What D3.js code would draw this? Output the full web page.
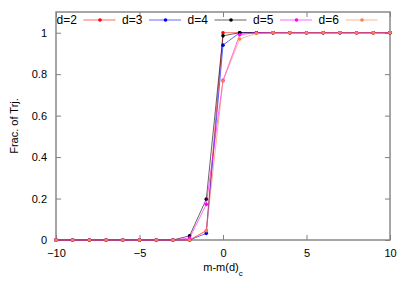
<!DOCTYPE html>
<html>
<head>
<meta charset="utf-8">
<script src="https://cdn.jsdelivr.net/npm/d3@7"></script>
<style>
  body { margin: 0; background: #fff; }
  text { font-family: "Liberation Sans", Arial, sans-serif; font-size: 11px; fill: #000; }
</style>
</head>
<body>
<div id="chart"></div>
<script>
const width = 411;
const height = 288;

const xs = d3.range(-10, 11);
const names = ['d=2', 'd=3', 'd=4', 'd=5', 'd=6'];
const colors = ['#ff0000', '#0000ff', '#000000', '#ff00ff', '#ff7f50'];

// values at m-m(d)c = -10 .. 10
const d2 = [0, 0, 0, 0, 0, 0, 0, 0, 0, 0.045, 1.0, 1, 1, 1, 1, 1, 1, 1, 1, 1, 1];
const d3v = [0, 0, 0, 0, 0, 0, 0, 0, 0, 0.032, 0.94, 1, 1, 1, 1, 1, 1, 1, 1, 1, 1];
const d4 = [0, 0, 0, 0, 0, 0, 0, 0, 0.02, 0.197, 0.985, 1, 1, 1, 1, 1, 1, 1, 1, 1, 1];
const d5 = [0, 0, 0, 0, 0, 0, 0, 0, 0.01, 0.172, 0.77, 0.99, 1, 1, 1, 1, 1, 1, 1, 1, 1];
const d6 = [0, 0, 0, 0, 0, 0, 0, 0, 0, 0.045, 0.767, 0.97, 0.997, 1, 1, 1, 1, 1, 1, 1, 1];
const series = [d2, d3v, d4, d5, d6];

const xTicks = [-10, -5, 0, 5, 10];
const yTicks = [0, 0.2, 0.4, 0.6, 0.8, 1];

const margin = { left: 56, right: 21, top: 12, bottom: 48 };

const svg = d3.select('#chart').append('svg')
    .attr('width', width)
    .attr('height', height);

const x = d3.scaleLinear().domain([-10, 10]).range([margin.left, width - margin.right]);
const y = d3.scaleLinear().domain([0, 1.1]).range([height - margin.bottom, margin.top]);

const frame = '#808080';

// axes with inward ticks, mirrored
const axBottom = svg.append('g')
    .attr('transform', `translate(0,${y(0)})`)
    .call(d3.axisBottom(x).tickValues(xTicks).tickSize(-5).tickPadding(9).tickFormat(d3.format('d')));
const axTop = svg.append('g')
    .attr('transform', `translate(0,${y(1.1)})`)
    .call(d3.axisTop(x).tickValues(xTicks).tickSize(-5).tickFormat(''));
const axLeft = svg.append('g')
    .attr('transform', `translate(${x(-10)},0)`)
    .call(d3.axisLeft(y).tickValues(yTicks).tickSize(-5).tickPadding(9).tickFormat(d => d === 0 || d === 1 ? d : d.toFixed(1)));
const axRight = svg.append('g')
    .attr('transform', `translate(${x(10)},0)`)
    .call(d3.axisRight(y).tickValues(yTicks).tickSize(-5).tickFormat(''));

[axBottom, axTop, axLeft, axRight].forEach(g => {
    g.select('.domain').remove();
    g.selectAll('line').attr('stroke', frame);
    g.selectAll('text').style('font-size', '11px').attr('fill', '#000');
});

svg.append('rect')
    .attr('x', x(-10))
    .attr('y', y(1.1))
    .attr('width', x(10) - x(-10))
    .attr('height', y(0) - y(1.1))
    .attr('fill', 'none')
    .attr('stroke', frame)
    .attr('stroke-width', 1.4);

const line = d3.line()
    .x((d, i) => x(xs[i]))
    .y(d => y(d));

series.forEach((s, k) => {
    svg.append('path')
        .datum(s)
        .attr('d', line)
        .attr('fill', 'none')
        .attr('stroke', colors[k])
        .attr('stroke-opacity', 0.6)
        .attr('stroke-width', 1);
    svg.append('g').selectAll('circle')
        .data(s)
        .enter().append('circle')
        .attr('cx', (d, i) => x(xs[i]))
        .attr('cy', d => y(d))
        .attr('r', 1.8)
        .attr('fill', colors[k]);
});

// legend
const legend = svg.append('g');
names.forEach((n, k) => {
    const lx = 56.5 + k * 65.5;
    const ly = 20;
    legend.append('text')
        .attr('x', lx)
        .attr('y', ly + 4)
        .style('font-size', '12px')
        .text(n);
    legend.append('line')
        .attr('x1', lx + 27)
        .attr('x2', lx + 59)
        .attr('y1', ly)
        .attr('y2', ly)
        .attr('stroke', colors[k])
        .attr('stroke-opacity', 0.6);
    legend.append('circle')
        .attr('cx', lx + 43.5)
        .attr('cy', ly)
        .attr('r', 1.8)
        .attr('fill', colors[k]);
});

// axis labels
svg.append('text')
    .attr('x', 223)
    .attr('y', 271)
    .attr('text-anchor', 'middle')
    .html('m-m(d)<tspan baseline-shift="sub" font-size="8px">c</tspan>');

svg.append('text')
    .attr('transform', `translate(18,${y(0.55)}) rotate(-90)`)
    .attr('text-anchor', 'middle')
    .text('Frac. of Trj.');
</script>
</body>
</html>
